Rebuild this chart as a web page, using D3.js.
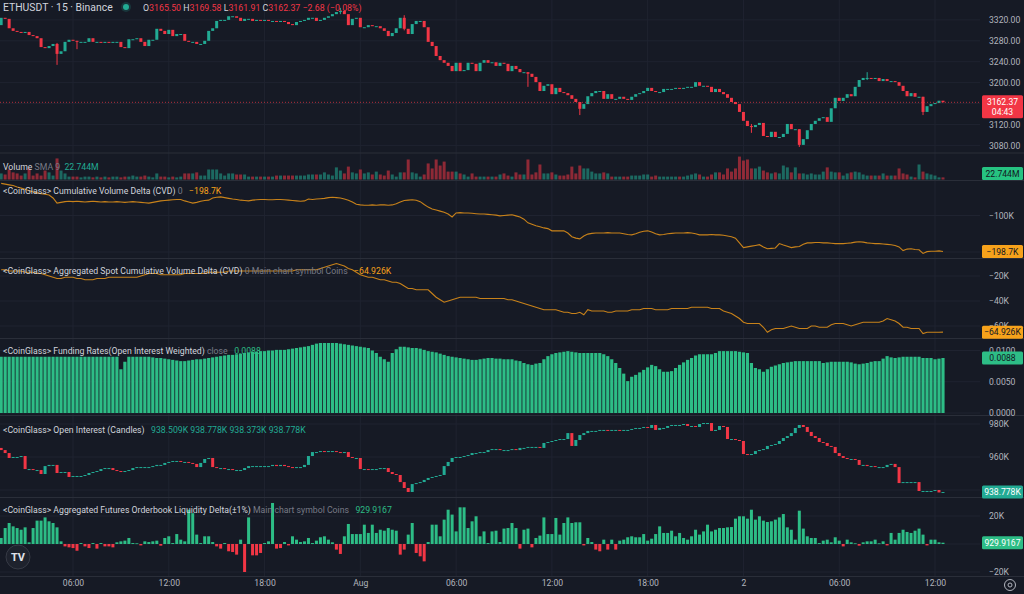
<!DOCTYPE html>
<html>
<head>
<meta charset="utf-8">
<script src="https://cdn.jsdelivr.net/npm/d3@7"></script>
<style>
body{margin:0;background:#161a25;overflow:hidden}
svg{display:block}
text{font-family:Roboto,"Noto Sans",sans-serif}
</style>
</head>
<body>
<svg id="chart" width="1024" height="594"></svg>
<script>
// ETHUSDT 15m, 31 Jul 01:30 -> 2 Aug 12:30 (UTC), one value per candle

const firstOpen = 3310
const closes = [
  3324,3322,3304,3299,3297,3295,3297,3291,3289,3285,3268,3266,3270,3274,3255,3260,3278,3282,
  3280,3278,3278,3278,3285,3278,3278,3276,3278,3276,3278,3278,3268,3266,3283,3283,3285,3278,3270,3282,3282,3303,3299,3293,
  3301,3289,3293,3293,3280,3278,3278,3274,3274,3280,3299,3304,3318,3320,3320,3327,3327,3324,3318,3322,3322,3318,3320,3318,
  3320,3318,3318,3316,3318,3316,3312,3310,3316,3318,3320,3324,3324,3318,3320,3324,3327,3331,3335,3337,3331,3310,3322,3324,
  3306,3306,3310,3308,3308,3304,3299,3289,3295,3304,3324,3303,3293,3312,3318,3318,3306,3278,3270,3251,3243,3238,3232,3222,
  3238,3222,3224,3238,3236,3222,3238,3243,3238,3239,3232,3238,3236,3222,3232,3226,3220,3220,3217,3211,3201,3184,3194,3197,
  3178,3190,3182,3180,3176,3169,3163,3150,3159,3174,3180,3184,3184,3169,3178,3169,3169,3173,3169,3167,3173,3178,3180,3184,
  3190,3184,3182,3182,3188,3188,3188,3190,3188,3190,3192,3192,3201,3194,3194,3192,3182,3188,3182,3178,3171,3163,3159,3144,
  3127,3117,3115,3119,3123,3098,3096,3106,3096,3096,3102,3121,3111,3111,3081,3092,3109,3121,3127,3132,3134,3125,3151,3171,
  3165,3171,3178,3174,3192,3205,3209,3209,3207,3209,3203,3207,3203,3203,3201,3194,3184,3174,3180,3173,3173,3144,3155,3159,3161,3165.5,3162.37
]
// notable wicks: [candle, high, low]
const wicks = [[14,3276,3234],[19,3280,3264],[85,3343,3331],[101,3329,3300],[132,3220,3192],
  [145,3163,3138],[188,3121,3104],[200,3111,3077],[217,3220,3205],[231,3173,3138]]

const volumes = [ // millions
  23,19,38,27,23,15,23,42,15,23,15,34,27,15,80,34,23,11,
  11,11,8,11,11,8,11,8,11,8,11,11,8,11,11,15,11,11,15,11,8,23,11,11,
  8,11,8,11,23,23,23,27,15,15,38,38,38,23,15,23,23,19,19,19,11,11,11,11,
  11,11,11,15,15,15,15,15,15,15,15,19,19,19,19,27,19,15,46,34,23,49,27,23,
  38,23,27,19,30,19,15,34,19,11,27,27,76,27,23,11,19,61,42,76,53,68,30,30,
  30,23,19,11,23,11,11,11,11,11,11,19,23,15,11,27,19,19,76,19,27,57,23,23,
  27,19,15,15,19,49,23,53,42,42,30,23,23,27,23,11,11,11,11,11,15,15,15,19,
  19,11,15,11,11,11,11,11,11,11,15,19,23,19,11,11,19,27,27,19,42,30,42,87,
  72,76,42,42,49,34,27,23,27,23,53,46,27,46,23,23,19,23,19,19,30,46,30,27,
  27,15,23,27,30,27,19,15,15,15,15,23,15,15,15,42,23,19,11,8,57,30,23,19,15,8,8
]
const volumeSma = 22.744

const cvd = [ // thousands
  -12,-14,-16,-18,-22,-25,-28,-32,-35,-38,-40,-42,-44,-52,-66,-64,-62,-61,
  -62,-61,-62,-63,-62,-61,-62,-63,-62,-63,-63,-62,-63,-64,-63,-62,-63,-64,-65,-66,-64,-62,-60,-59,
  -58,-57,-56,-56,-60,-63,-66,-64,-61,-59,-58,-52,-50,-49,-51,-53,-55,-56,-58,-59,-60,-58,-57,-56,
  -56,-57,-57,-56,-56,-57,-58,-59,-60,-61,-60,-55,-56,-55,-54,-53,-51,-50,-51,-52,-55,-58,-63,-69,
  -71,-72,-72,-71,-72,-71,-71,-72,-71,-68,-63,-59,-58,-57,-58,-62,-70,-77,-82,-85,-88,-91,-96,-104,
  -93,-92,-93,-93,-94,-95,-96,-96,-97,-98,-99,-101,-100,-99,-98,-101,-104,-110,-120,-124,-128,-131,-134,-136,
  -142,-142,-142,-142,-148,-158,-162,-164,-156,-151,-149,-148,-148,-148,-147,-148,-148,-148,-150,-152,-153,-150,-146,-143,
  -142,-145,-150,-153,-152,-150,-149,-148,-148,-148,-147,-148,-150,-153,-153,-153,-152,-153,-153,-154,-156,-158,-162,-175,
  -188,-186,-184,-182,-180,-186,-191,-190,-189,-177,-181,-184,-188,-186,-185,-179,-175,-175,-174,-174,-175,-175,-176,-177,
  -177,-177,-176,-175,-173,-172,-173,-175,-176,-177,-177,-178,-179,-180,-182,-186,-196,-192,-191,-193,-194,-204,-199,-198,-198,-197,-198.7
]

const spotCvd = [ // thousands
  -15,-15,-16,-16,-16,-16,-17,-17,-17,-18,-18,-19,-20,-21,-22,-22,-21,-21,
  -21,-22,-22,-23,-23,-23,-22,-22,-22,-21,-21,-21,-21,-21,-21,-21,-21,-20,-19,-18,-18,-18,-19,-19,
  -19,-19,-19,-19,-18,-18,-18,-18,-18,-18,-17,-17,-17,-17,-17,-16,-16,-16,-16,-16,-16,-16,-16,-16,
  -16,-16,-16,-16,-16,-16,-16,-16,-15,-15,-15,-15,-15,-15,-14,-13,-12,-11,-10,-11,-12,-14,-15,-17,
  -19,-20,-21,-21,-22,-23,-23,-24,-25,-25,-26,-28,-30,-30,-31,-31,-31,-31,-34,-37,-39,-41,-40,-39,
  -38,-37,-37,-37,-37,-37,-38,-38,-38,-38,-38,-38,-38,-39,-39,-40,-41,-42,-43,-44,-45,-46,-47,-47,
  -47,-47,-48,-49,-49,-50,-50,-49,-51,-47,-48,-48,-48,-48,-49,-49,-48,-48,-48,-48,-47,-47,-47,-46,
  -46,-46,-47,-47,-47,-47,-46,-46,-46,-46,-46,-45,-45,-45,-45,-45,-46,-46,-46,-48,-49,-50,-52,-54,
  -57,-58,-58,-58,-58,-61,-65,-63,-62,-62,-62,-61,-60,-61,-62,-62,-62,-60,-60,-61,-61,-61,-59,-58,
  -58,-58,-59,-60,-59,-58,-57,-57,-57,-57,-57,-56,-54,-55,-56,-58,-61,-61,-62,-62,-62,-66,-65,-65,-65,-65,-64.926
]

const funding = [
  0.0090,0.0090,0.0090,0.0090,0.0090,0.0090,0.0090,0.0090,0.0090,0.0090,0.0090,0.0090,0.0090,0.0090,0.0090,0.0090,0.0090,0.0090,
  0.0090,0.0090,0.0090,0.0090,0.0090,0.0090,0.0090,0.0090,0.0090,0.0090,0.0090,0.0090,0.0070,0.0082,0.0090,0.0090,0.0090,0.0090,0.0090,0.0090,0.0089,0.0088,0.0088,0.0087,
  0.0086,0.0085,0.0084,0.0083,0.0083,0.0084,0.0085,0.0086,0.0086,0.0087,0.0088,0.0089,0.0090,0.0091,0.0092,0.0093,0.0093,0.0094,0.0095,0.0096,0.0097,0.0098,0.0098,0.0099,
  0.0099,0.0100,0.0100,0.0101,0.0101,0.0101,0.0102,0.0103,0.0104,0.0105,0.0106,0.0107,0.0109,0.0111,0.0112,0.0112,0.0112,0.0112,0.0112,0.0111,0.0110,0.0109,0.0108,0.0107,
  0.0106,0.0105,0.0104,0.0100,0.0096,0.0090,0.0086,0.0082,0.0096,0.0102,0.0106,0.0106,0.0105,0.0104,0.0104,0.0103,0.0101,0.0099,0.0098,0.0097,0.0095,0.0093,0.0091,0.0090,
  0.0089,0.0088,0.0087,0.0086,0.0085,0.0085,0.0086,0.0087,0.0088,0.0088,0.0087,0.0087,0.0086,0.0086,0.0086,0.0084,0.0083,0.0080,0.0078,0.0077,0.0079,0.0080,0.0086,0.0091,
  0.0094,0.0096,0.0097,0.0098,0.0099,0.0098,0.0097,0.0096,0.0096,0.0096,0.0096,0.0096,0.0096,0.0094,0.0091,0.0086,0.0080,0.0072,0.0063,0.0051,0.0058,0.0061,0.0065,0.0069,
  0.0073,0.0077,0.0075,0.0070,0.0066,0.0066,0.0067,0.0072,0.0077,0.0081,0.0085,0.0088,0.0092,0.0094,0.0094,0.0094,0.0094,0.0096,0.0099,0.0099,0.0099,0.0099,0.0099,0.0098,
  0.0097,0.0096,0.0080,0.0072,0.0070,0.0066,0.0070,0.0074,0.0076,0.0078,0.0080,0.0081,0.0082,0.0083,0.0083,0.0083,0.0083,0.0083,0.0083,0.0083,0.0080,0.0081,0.0082,0.0082,
  0.0082,0.0082,0.0082,0.0081,0.0079,0.0078,0.0079,0.0080,0.0082,0.0083,0.0083,0.0087,0.0091,0.0089,0.0088,0.0089,0.0090,0.0090,0.0090,0.0090,0.0090,0.0088,0.0088,0.0088,0.0086,0.0087,0.0088
]

const oiFirstOpen = 965.5
const oiCloses = [ // thousands
  964.2,962.4,959.4,960,960,960.6,952.7,952.7,952.1,952.1,949.7,954.5,955.2,955.2,950.3,950.9,950.9,947.9,
  948.5,948.5,948.5,949.1,950.3,950.9,951.5,952.7,953.3,953.3,952.1,951.5,950.9,951.5,952.1,953.3,953.9,953.9,953.9,953.9,954.5,955.2,955.2,956.4,
  957,957.6,957.6,957,957,956.4,955.8,953.9,956.4,958.8,959.4,953.9,953.3,953.3,952.7,952.7,952.1,952.1,952.1,953.3,954.5,954.5,954.5,954.5,
  954.5,954.5,955.2,954.5,955.2,954.5,953.9,953.3,953.9,953.9,955.2,960.6,963,963,963.6,963,963.6,963.6,963,962.4,963,960,959.4,959.4,
  952.7,952.7,952.1,952.7,952.7,953.3,953.3,950.9,949.7,949.1,944.8,941.2,938.8,943.6,944.2,944.8,946.1,947.3,947.9,948.5,949.1,954.5,957,959.4,
  960,960,960.6,961.2,962.4,962.4,963,963,964.2,964.8,964.8,964.2,964.2,964.2,964.8,964.2,965.5,965.5,966.1,966.1,966.1,965.5,968.5,969.1,
  969.7,970.3,970.9,970.9,974.5,966.7,970.3,973.3,974.5,975.8,975.8,975.8,976.4,976.4,975.8,976.4,976.4,975.8,976.4,976.4,977,977.6,977.6,978.2,
  977.6,979.4,976.4,977.6,977.6,978.8,979.4,979.4,979.4,980,978.8,978.8,978.2,980,980.6,980.6,975.8,976.4,978.8,978.2,970.9,970.9,970.3,969.7,
  961.8,961.2,961.8,963.6,964.2,964.8,966.7,967.3,967.9,969.7,971.5,972.7,974.5,977.6,979.4,978.2,975.2,972.7,971.5,969.1,968.5,966.7,966.1,962.4,
  960.6,959.4,958.8,958.8,958.2,955.2,955.2,954.5,954.5,953.9,953.9,953.9,955.2,955.8,953.9,944.2,944.8,944.8,944.8,944.8,939.4,939.4,939.4,939.4,940,938.509,938.778
]

const bookDelta = [ // thousands of coins
  4.3,11.4,15,12.6,11.4,10.2,11.9,1.2,11.4,16.7,16.7,19,16.2,15,11.9,1.9,-1.7,-2.4,
  -2.9,-4.8,0.7,-1.7,-2.9,0.7,-3.3,0.7,-1.7,-1.7,-2.4,1.2,1.9,2.4,4.3,0.7,0.5,-1,1.9,1.4,1.9,2.4,-1.2,4.3,
  5.5,0.7,7.1,3.1,1.9,24.5,22,6.7,0.7,5.5,5.5,1.4,-1.7,-3.3,0.7,-5.2,-5.7,-7.6,3.1,-20,19,-8.1,-8.1,-6.4,
  0.7,1.9,29.3,-3.3,-2.9,1.4,-1,5.5,3.1,1.4,1.9,4.3,0.7,2.4,4.8,5.5,3.1,1.2,-4,-7.1,5.5,14.3,7.1,7.1,
  7.1,13.8,7.9,13.8,7.9,10.2,9.5,11.4,10.2,9.5,-7.6,-4,6.7,15,-6.4,-8.8,-12.4,1.4,13.8,13.8,5.5,17.4,24.5,21,
  9,26.2,26.2,11.4,16.2,19.8,5.5,9,0.7,9,9.5,1.4,11,11.4,15,11.4,-3.3,10.2,11,-2.4,4.3,6,19,7.1,
  7.1,18.6,6.7,15,19,15,15.5,15.5,-1,4.3,1.4,-4,-5.2,3.1,-4,3.1,-4,2.4,3.1,4.8,5.5,4.8,4.8,7.1,
  2.4,3.8,7.1,12.6,7.9,7.9,9.5,5.5,7.9,4.3,3.1,5.5,10.2,6.7,9,13.8,9,10.2,11.4,11.4,11.9,12.1,18.1,19.8,
  19.8,18.1,24.5,17.4,19.8,16.7,15.7,16.2,17.4,19,21.4,11.9,10.2,3.1,23.8,11,5.5,4.3,4.3,0.7,2.4,3.1,1.2,4.8,
  2.4,-1.7,3.1,1.2,0.5,-1.2,1.2,1.9,1.9,3.1,0.5,1.9,-1,7.9,3.1,7.9,10.2,8.6,7.9,9.5,11,6.7,-1,3.1,3.1,1.2,0.9299167
]

const header = ['ETHUSDT · 15 · Binance']
const lastOhlc = [['O','3165.50'],['H','3169.58'],['L','3161.91'],['C','3162.37']]
const lastChange = '−2.68 (−0.08%)'
const oiLegendValues = ['938.509K','938.778K','938.373K','938.778K']
const countdown = '04:43'

const timeTicks = ['2024-07-31T06:00Z','2024-07-31T12:00Z','2024-07-31T18:00Z','2024-08-01T00:00Z','2024-08-01T06:00Z',
  '2024-08-01T12:00Z','2024-08-01T18:00Z','2024-08-02T00:00Z','2024-08-02T06:00Z','2024-08-02T12:00Z']
const timeLabels = ['06:00','12:00','18:00','Aug','06:00','12:00','18:00','2','06:00','12:00']
const priceTicks = [3080,3120,3160,3200,3240,3280,3320]
const cvdTicks = [-200,-100]
const spotTicks = [-60,-40,-20]
const fundingTicks = [0,0.005,0.01]
const oiTicks = [940,960,980]
const deltaTicks = [-20,0,20]

// ---------------------------------------------------------------

const W = 1024, H = 594, plotRight = 980
const green = '#22ab94', red = '#f23645', orange = '#f7a21b', mint = '#2dbd86'
const gridColor = '#1f2330', sepColor = '#2a2e39', txt = '#d1d4dc', grey = '#787b86', axisTxt = '#b2b5be'
const legendSize = 8.7, axisSize = 8.6
const minus = s => s.replace('-', '−')

const svg = d3.select('#chart')
svg.append('rect').attr('width', W).attr('height', H).attr('fill', '#161a25')

const start = Date.UTC(2024, 6, 31, 1, 30)
const times = closes.map((d, i) => new Date(start + i * 15 * 60000))
const x = d3.scaleUtc()
  .domain([new Date(timeTicks[0]), new Date(timeTicks[timeTicks.length - 1])])
  .range([73, 935])
const stepPx = x(times[1]) - x(times[0])
const bw = 3

// scales per pane
const yPrice = d3.scaleLinear().domain([3080, 3320]).range([145.4, 19.9])
const yVol = d3.scaleLinear().domain([0, 90]).range([179.5, 155.8])
const yCvd = d3.scaleLinear().domain([-200, -100]).range([252, 215.5])
const ySpot = d3.scaleLinear().domain([-60, -20]).range([326, 276])
const yFund = d3.scaleLinear().domain([0, 0.01]).range([413, 350.5])
const yOi = d3.scaleLinear().domain([960, 980]).range([457, 424])
const yDelta = d3.scaleLinear().domain([-20, 20]).range([572, 516])

// vertical grid
svg.append('g').selectAll('line').data(timeTicks).join('line')
  .attr('x1', d => x(new Date(d))).attr('x2', d => x(new Date(d)))
  .attr('y1', 0).attr('y2', 576)
  .attr('stroke', gridColor)

function hgrid(scale, values) {
  svg.append('g').selectAll('line').data(values).join('line')
    .attr('x1', 0).attr('x2', plotRight)
    .attr('y1', d => scale(d)).attr('y2', d => scale(d))
    .attr('stroke', gridColor)
}
hgrid(yPrice, priceTicks)
hgrid(yCvd, cvdTicks)
hgrid(ySpot, spotTicks)
hgrid(yFund, fundingTicks)
hgrid(yOi, oiTicks)
hgrid(yDelta, deltaTicks)

// pane separators
svg.append('g').selectAll('line').data([153, 180.5, 258.5, 338.5, 415.5, 497.5, 576.5]).join('line')
  .attr('x1', 0).attr('x2', W).attr('y1', d => d).attr('y2', d => d)
  .attr('stroke', sepColor)

// price candles
const candles = closes.map((c, i) => ({ i, o: i ? closes[i - 1] : firstOpen, c }))
svg.append('g').selectAll('line').data(wicks).join('line')
  .attr('x1', d => x(times[d[0]])).attr('x2', d => x(times[d[0]]))
  .attr('y1', d => yPrice(d[1])).attr('y2', d => yPrice(d[2]))
  .attr('stroke', d => closes[d[0]] >= (d[0] ? closes[d[0] - 1] : firstOpen) ? green : red)
svg.append('g').selectAll('rect').data(candles).join('rect')
  .attr('x', d => x(times[d.i]) - bw / 2)
  .attr('width', bw)
  .attr('y', d => yPrice(Math.max(d.o, d.c)))
  .attr('height', d => Math.max(1, Math.abs(yPrice(d.o) - yPrice(d.c))))
  .attr('fill', d => d.c >= d.o ? green : red)

// last price line
const lastPrice = closes[closes.length - 1]
svg.append('line').attr('x1', 0).attr('x2', plotRight)
  .attr('y1', yPrice(lastPrice)).attr('y2', yPrice(lastPrice))
  .attr('stroke', red).attr('stroke-opacity', 0.7).attr('stroke-dasharray', '1,2')

// volume
svg.append('g').selectAll('rect').data(volumes).join('rect')
  .attr('x', (d, i) => x(times[i]) - bw / 2)
  .attr('width', bw)
  .attr('y', d => yVol(d))
  .attr('height', d => yVol(0) - yVol(d))
  .attr('fill', (d, i) => candles[i].c >= candles[i].o ? green : red)
  .attr('fill-opacity', 0.55)

// CVD lines
const line = scale => d3.line().x((d, i) => x(times[i])).y(d => scale(d))
svg.append('path').datum(cvd).attr('d', line(yCvd))
  .attr('fill', 'none').attr('stroke', '#c8821a').attr('stroke-width', 1.1)
svg.append('path').datum(spotCvd).attr('d', line(ySpot))
  .attr('fill', 'none').attr('stroke', '#c8821a').attr('stroke-width', 1.1)

// funding rate columns
svg.append('g').selectAll('rect').data(funding).join('rect')
  .attr('x', (d, i) => x(times[i]) - (stepPx - 0.8) / 2)
  .attr('width', stepPx - 0.8)
  .attr('y', d => yFund(d))
  .attr('height', d => yFund(0) - yFund(d))
  .attr('fill', mint)

// open interest candles
const oiCandles = oiCloses.map((c, i) => ({ i, o: i ? oiCloses[i - 1] : oiFirstOpen, c }))
svg.append('g').selectAll('rect').data(oiCandles).join('rect')
  .attr('x', d => x(times[d.i]) - bw / 2)
  .attr('width', bw)
  .attr('y', d => yOi(Math.max(d.o, d.c)))
  .attr('height', d => Math.max(1, Math.abs(yOi(d.o) - yOi(d.c))))
  .attr('fill', d => d.c >= d.o ? green : red)

// orderbook liquidity delta
svg.append('g').selectAll('rect').data(bookDelta).join('rect')
  .attr('x', (d, i) => x(times[i]) - bw / 2)
  .attr('width', bw)
  .attr('y', d => yDelta(Math.max(0, d)))
  .attr('height', d => Math.max(0.8, Math.abs(yDelta(d) - yDelta(0))))
  .attr('fill', d => d >= 0 ? mint : red)

// right axes
function rightAxis(scale, values, fmt) {
  const g = svg.append('g').attr('transform', `translate(${plotRight + 3},0)`)
    .call(d3.axisRight(scale).tickValues(values).tickFormat(fmt).tickSize(0).tickPadding(6))
  g.select('.domain').remove()
  g.selectAll('text').attr('fill', axisTxt).attr('font-size', axisSize).attr('font-family', 'Roboto')
}
rightAxis(yPrice, priceTicks.filter(d => d !== 3160), d => d3.format('.2f')(d))
rightAxis(yCvd, [-100], d => minus(d + 'K'))
rightAxis(ySpot, spotTicks, d => minus(d + 'K'))
rightAxis(yFund, fundingTicks, d => d3.format('.4f')(d))
rightAxis(yOi, [960, 980], d => d + 'K')
rightAxis(yDelta, [-20, 20], d => minus(d + 'K'))

// bottom time axis
const xa = svg.append('g').attr('transform', 'translate(0,580)')
  .call(d3.axisBottom(x).tickValues(timeTicks.map(d => new Date(d))).tickFormat((d, i) => timeLabels[i]).tickSize(0).tickPadding(0))
xa.select('.domain').remove()
xa.selectAll('text').attr('fill', axisTxt).attr('font-size', axisSize).attr('font-family', 'Roboto').attr('dy', '0.71em')

// value tags on the right scale
function tag(y, label, fill, color) {
  svg.append('rect').attr('x', 982).attr('y', y - 6.5).attr('width', 41).attr('height', 13)
    .attr('rx', 1.5).attr('fill', fill)
  svg.append('text').attr('x', 1002.5).attr('y', y + 3).attr('text-anchor', 'middle')
    .attr('font-size', axisSize).attr('fill', color).text(label)
}
const py = yPrice(lastPrice)
svg.append('rect').attr('x', 982).attr('y', py - 7).attr('width', 41).attr('height', 23)
  .attr('rx', 1.5).attr('fill', red)
svg.append('text').attr('x', 1002.5).attr('y', py + 3).attr('text-anchor', 'middle')
  .attr('font-size', axisSize).attr('fill', '#fff').text(lastPrice.toFixed(2))
svg.append('text').attr('x', 1002.5).attr('y', py + 13).attr('text-anchor', 'middle')
  .attr('font-size', axisSize).attr('fill', '#fff').text(countdown)
tag(yVol(volumeSma), volumeSma.toFixed(3) + 'M', '#26c281', '#131722')
tag(yCvd(cvd[cvd.length - 1]), minus(cvd[cvd.length - 1].toFixed(1) + 'K'), orange, '#131722')
tag(ySpot(spotCvd[spotCvd.length - 1]), minus(spotCvd[spotCvd.length - 1].toFixed(3) + 'K'), orange, '#131722')
tag(yFund(funding[funding.length - 1]), funding[funding.length - 1].toFixed(4), mint, '#131722')
tag(yOi(oiCloses[oiCloses.length - 1]), oiCloses[oiCloses.length - 1].toFixed(3) + 'K', green, '#fff')
tag(yDelta(bookDelta[bookDelta.length - 1]), (bookDelta[bookDelta.length - 1] * 1000).toFixed(4), mint, '#fff')

// legends
function legend(y, parts, size) {
  const t = svg.append('text').attr('x', 3).attr('y', y).attr('font-size', size || legendSize).style('white-space', 'pre')
  parts.forEach(p => t.append('tspan').attr('fill', p[1]).text(p[0]))
  return t
}
legend(11, [[header[0], txt]], 10.4)
svg.append('circle').attr('cx', 126).attr('cy', 7).attr('r', 5).attr('fill', green).attr('opacity', 0.2)
svg.append('circle').attr('cx', 126).attr('cy', 7).attr('r', 3).attr('fill', green)
const ohlc = svg.append('text').attr('x', 143).attr('y', 11).attr('font-size', 8.8).style('white-space', 'pre')
lastOhlc.forEach((p, i) => {
  ohlc.append('tspan').attr('fill', txt).text((i ? ' ' : '') + p[0])
  ohlc.append('tspan').attr('fill', red).text(p[1])
})
ohlc.append('tspan').attr('fill', red).text(' ' + lastChange)

legend(169.5, [['Volume', txt], [' SMA 9', grey], ['  ' + volumeSma.toFixed(3) + 'M', green]])
legend(193.5, [['<CoinGlass> Cumulative Volume Delta (CVD)', txt], [' 0', grey],
  ['   ' + minus(cvd[cvd.length - 1].toFixed(1) + 'K'), orange]])
legend(273.5, [['<CoinGlass> Aggregated Spot Cumulative Volume Delta (CVD)', txt], [' 0 Main chart symbol Coins', grey],
  ['   ' + minus(spotCvd[spotCvd.length - 1].toFixed(3) + 'K'), orange]])
legend(353.5, [['<CoinGlass> Funding Rates(Open Interest Weighted)', txt], [' close', grey],
  ['   ' + funding[funding.length - 1].toFixed(4), mint]])
legend(432.5, [['<CoinGlass> Open Interest (Candles)', txt], ['   ' + oiLegendValues.join(' '), green]])
legend(512.5, [['<CoinGlass> Aggregated Futures Orderbook Liquidity Delta(±1%)', txt], [' Main chart symbol Coins', grey],
  ['   ' + (bookDelta[bookDelta.length - 1] * 1000).toFixed(4), mint]])

// TradingView badge and settings icon
svg.append('circle').attr('cx', 18).attr('cy', 557).attr('r', 12).attr('fill', '#1e222d').attr('stroke', '#363a45')
svg.append('text').attr('x', 18).attr('y', 561).attr('text-anchor', 'middle').attr('font-size', 11)
  .attr('font-weight', 'bold').attr('fill', '#e0e3eb').text('TV')
svg.append('circle').attr('cx', 1010).attr('cy', 585).attr('r', 5.5).attr('fill', 'none').attr('stroke', axisTxt)
svg.append('circle').attr('cx', 1010).attr('cy', 585).attr('r', 2).attr('fill', 'none').attr('stroke', axisTxt)
</script>
</body>
</html>
